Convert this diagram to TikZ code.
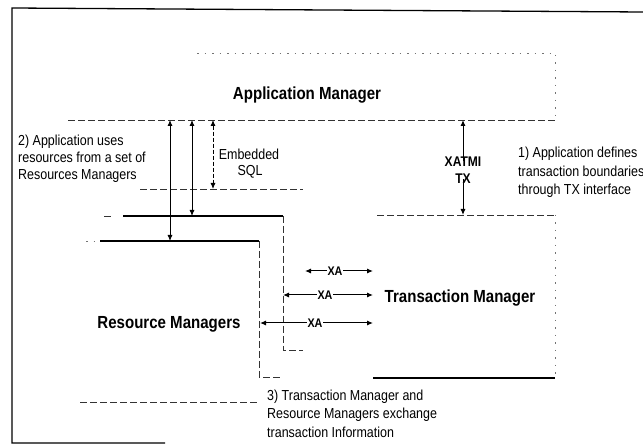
\documentclass[tikz,border=0pt]{standalone}
\usepackage{fontspec}
\setmainfont{Liberation Sans}[FakeStretch=0.86]
\usetikzlibrary{arrows.meta}
\begin{document}
\begin{tikzpicture}[x=1pt,y=-1pt,
  frameln/.style={line width=1.3pt,black},
  solidln/.style={line width=1.2pt,black},
  dshln/.style={line width=0.9pt,black!80,dash pattern=on 7pt off 3pt},
  dotln/.style={line width=0.8pt,black!55,dash pattern=on 1.5pt off 6pt},
  arr/.style={line width=1pt,-{Latex[length=6pt,width=5pt]}},
  darr/.style={line width=0.9pt,{Latex[length=6pt,width=5pt]}-{Latex[length=6pt,width=5pt]}},
  bigtxt/.style={font=\fontsize{17.5}{21}\selectfont\bfseries,inner sep=0pt,anchor=base},
  smalltxt/.style={font=\fontsize{14.5}{17}\selectfont,inner sep=0pt,anchor=base west},
  xatxt/.style={font=\fontsize{12.5}{14}\selectfont\bfseries,inner sep=0.6pt},
  iftxt/.style={font=\fontsize{14}{16}\selectfont\bfseries,inner sep=0pt,anchor=base}
]
\useasboundingbox (0,0) rectangle (643,446);

% outer frame
\draw[frameln] (643,12) -- (12,8) -- (12,443) -- (165,443);

% Application Manager box
\draw[dotln] (197,53) -- (555,53) -- (555,120);
\draw[dshln] (68,120) -- (555,120);
\node[bigtxt] (am) at (307,100) {Application Manager};

% Resource Manager stack
\draw[dshln] (140,189) -- (303,189);
\draw[solidln] (123,216) -- (283,216);
\draw[dshln] (104,216) -- (112,216);
\draw[dshln] (283,216) -- (283,350) -- (303,350);
\draw[solidln] (100,241) -- (259,241);
\draw[dotln] (86,241) -- (98,241);
\draw[dshln] (259,241) -- (259,377) -- (282,377);
\draw[dshln] (80,402) -- (257,402);
\node[bigtxt] (rm) at (169,329) {Resource Managers};

% Transaction Manager box
\draw[dshln] (377,215) -- (555,215);
\draw[dotln] (555,215) -- (555,378);
\draw[solidln] (373,378) -- (555,378);
\node[bigtxt] (tm) at (460,303) {Transaction Manager};

% arrows between AM and RM
\coordinate (u1) at (170,120); \coordinate (d1) at (170,241);
\coordinate (u2) at (192,120); \coordinate (d2) at (192,216);
\coordinate (u3) at (213,120); \coordinate (d3) at (213,189);
\coordinate (u4) at (463,120); \coordinate (d4) at (463,215);
\draw[darr] (u1) -- (d1);
\draw[darr] (u2) -- (d2);
\draw[darr,dash pattern=on 4pt off 2pt] (u3) -- (d3);

% XATMI / TX
\node[iftxt] (xatmi) at (463,167) {XATMI};
\node[iftxt] (tx) at (463,184) {TX};
\draw[arr] ([yshift=-4pt]xatmi.north) -- (u4);
\draw[arr] ([yshift=5pt]tx.south) -- (d4);

% XA arrows
\node[xatxt] (xa1) at (335,271) {XA};
\coordinate (xa1l) at (305,271); \coordinate (xa1r) at (373,271);
\draw[arr] (xa1.west) -- (xa1l); \draw[arr] (xa1.east) -- (xa1r);
\node[xatxt] (xa2) at (325,295) {XA};
\coordinate (xa2l) at (283,295); \coordinate (xa2r) at (373,295);
\draw[arr] (xa2.west) -- (xa2l); \draw[arr] (xa2.east) -- (xa2r);
\node[xatxt] (xa3) at (315,323) {XA};
\coordinate (xa3l) at (260,323); \coordinate (xa3r) at (373,323);
\draw[arr] (xa3.west) -- (xa3l); \draw[arr] (xa3.east) -- (xa3r);

% annotation texts
\node[smalltxt] (l1) at (18,146) {2) Application uses};
\node[smalltxt] (l2) at (18,163) {resources from a set of};
\node[smalltxt] (l3) at (18,180) {Resources Managers};
\node[smalltxt,anchor=base] (emb) at (249,160) {Embedded};
\node[smalltxt,anchor=base] (sql) at (250,176) {SQL};
\node[smalltxt] (r1) at (518,158) {1) Application defines};
\node[smalltxt] (r2) at (518,177) {transaction boundaries};
\node[smalltxt] (r3) at (518,195) {through TX interface};
\node[smalltxt] (b1) at (267,400) {3) Transaction Manager and};
\node[smalltxt] (b2) at (267,418) {Resource Managers exchange};
\node[smalltxt] (b3) at (267,437) {transaction Information};
\end{tikzpicture}
\end{document}
